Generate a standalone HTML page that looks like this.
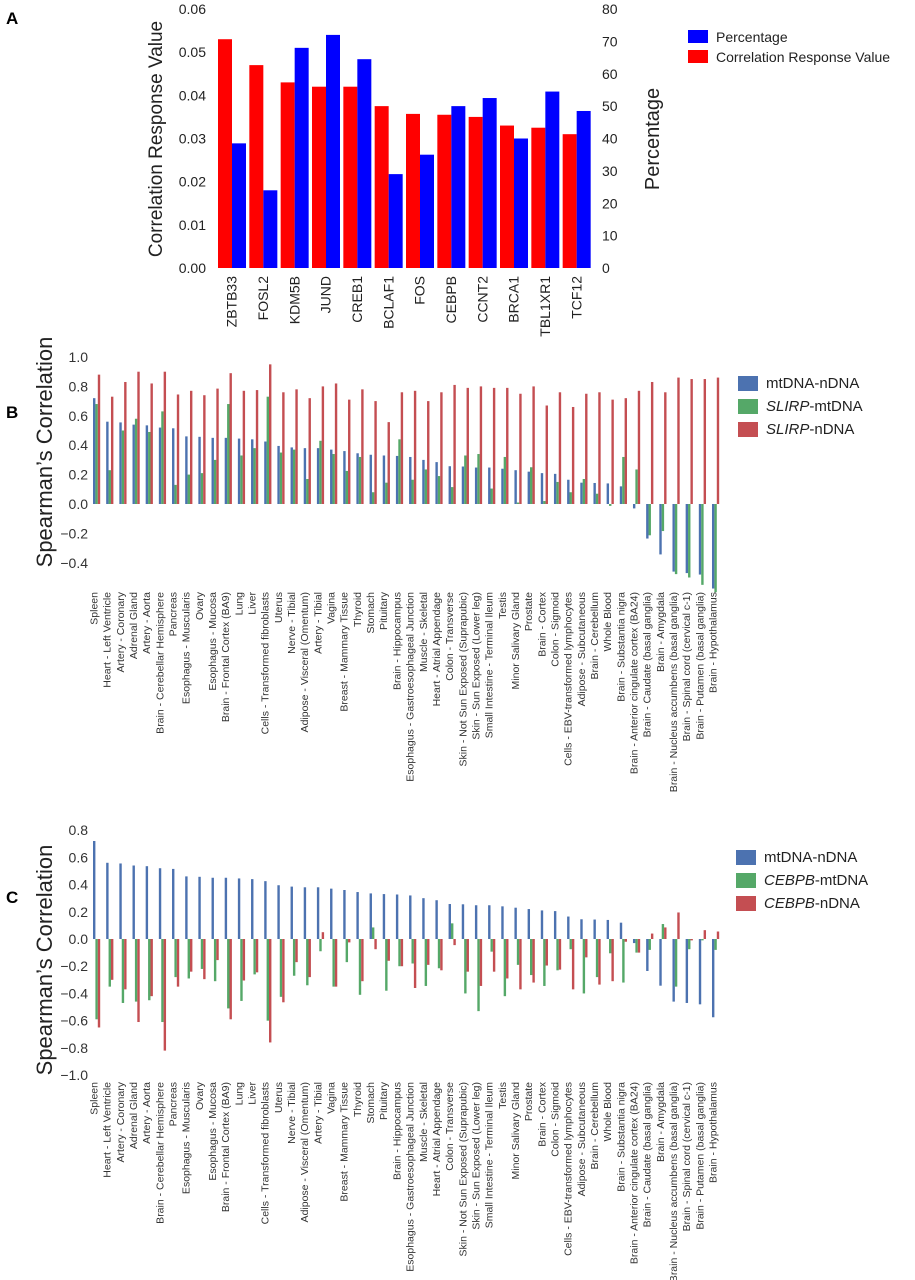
<!DOCTYPE html>
<html><head><meta charset="utf-8"><style>
html,body{margin:0;padding:0;background:#fff}
svg{display:block;font-family:"Liberation Sans",Arial,sans-serif}
</style></head><body>
<svg id="fig" width="915" height="1280" viewBox="0 0 915 1280">
<text x="6" y="24" font-size="17" font-weight="bold">A</text>
<text x="6" y="418" font-size="17" font-weight="bold">B</text>
<text x="6" y="903" font-size="17" font-weight="bold">C</text>
<g id="pa"></g>
<g id="pb"></g>
<g id="pc"></g>
</svg>
<script>
// ---- Panel A data ----
const genes = ["ZBTB33","FOSL2","KDM5B","JUND","CREB1","BCLAF1","FOS","CEBPB","CCNT2","BRCA1","TBL1XR1","TCF12"];
const corrValues = [0.053,0.047,0.043,0.042,0.042,0.0375,0.0357,0.0355,0.035,0.033,0.0325,0.031];
const pctValues = [38.5,24,68,72,64.5,29,35,50,52.5,40,54.5,48.5];
const leftTicks = ["0.00","0.01","0.02","0.03","0.04","0.05","0.06"];
const rightTicks = ["0","10","20","30","40","50","60","70","80"];

// ---- Panels B/C data ----
const tissues = ["Spleen","Heart - Left Ventricle","Artery - Coronary","Adrenal Gland","Artery - Aorta","Brain - Cerebellar Hemisphere","Pancreas","Esophagus - Muscularis","Ovary","Esophagus - Mucosa","Brain - Frontal Cortex (BA9)","Lung","Liver","Cells - Transformed fibroblasts","Uterus","Nerve - Tibial","Adipose - Visceral (Omentum)","Artery - Tibial","Vagina","Breast - Mammary Tissue","Thyroid","Stomach","Pituitary","Brain - Hippocampus","Esophagus - Gastroesophageal Junction","Muscle - Skeletal","Heart - Atrial Appendage","Colon - Transverse","Skin - Not Sun Exposed (Suprapubic)","Skin - Sun Exposed (Lower leg)","Small Intestine - Terminal Ileum","Testis","Minor Salivary Gland","Prostate","Brain - Cortex","Colon - Sigmoid","Cells - EBV-transformed lymphocytes","Adipose - Subcutaneous","Brain - Cerebellum","Whole Blood","Brain - Substantia nigra","Brain - Anterior cingulate cortex (BA24)","Brain - Caudate (basal ganglia)","Brain - Amygdala","Brain - Nucleus accumbens (basal ganglia)","Brain - Spinal cord (cervical c-1)","Brain - Putamen (basal ganglia)","Brain - Hypothalamus"];
const mtnDNA = [0.72,0.56,0.555,0.54,0.535,0.52,0.515,0.46,0.457,0.45,0.45,0.445,0.44,0.425,0.395,0.385,0.38,0.38,0.37,0.36,0.345,0.335,0.33,0.327,0.32,0.30,0.285,0.257,0.255,0.248,0.248,0.24,0.23,0.22,0.21,0.205,0.165,0.145,0.143,0.14,0.12,-0.03,-0.235,-0.343,-0.46,-0.47,-0.48,-0.575];
const slirpMt = [0.68,0.23,0.50,0.58,0.49,0.63,0.13,0.20,0.21,0.30,0.68,0.33,0.38,0.73,0.35,0.37,0.17,0.43,0.34,0.225,0.32,0.08,0.145,0.44,0.165,0.235,0.19,0.115,0.33,0.34,0.105,0.32,0.01,0.25,0.02,0.15,0.08,0.17,0.07,-0.013,0.32,0.235,-0.213,-0.184,-0.477,-0.50,-0.55,-0.60];
const slirpN = [0.88,0.73,0.83,0.90,0.82,0.90,0.745,0.77,0.74,0.785,0.89,0.77,0.775,0.95,0.76,0.78,0.72,0.80,0.82,0.71,0.78,0.70,0.557,0.76,0.77,0.70,0.76,0.81,0.79,0.80,0.79,0.79,0.75,0.80,0.67,0.76,0.66,0.75,0.76,0.71,0.72,0.77,0.83,0.76,0.86,0.85,0.85,0.86];
const cebpbMt = [-0.59,-0.35,-0.47,-0.46,-0.45,-0.61,-0.28,-0.29,-0.22,-0.31,-0.51,-0.455,-0.26,-0.60,-0.425,-0.27,-0.34,-0.09,-0.35,-0.17,-0.41,0.085,-0.38,-0.20,-0.18,-0.345,-0.215,0.115,-0.40,-0.53,-0.093,-0.42,-0.19,-0.265,-0.345,-0.23,-0.075,-0.40,-0.28,-0.105,-0.32,-0.10,-0.08,0.11,-0.35,-0.075,-0.01,-0.08];
const cebpbN = [-0.65,-0.30,-0.37,-0.61,-0.42,-0.82,-0.35,-0.24,-0.295,-0.155,-0.59,-0.305,-0.245,-0.76,-0.465,-0.17,-0.28,0.05,-0.35,-0.025,-0.31,-0.075,-0.16,-0.20,-0.36,-0.19,-0.23,-0.045,-0.24,-0.345,-0.24,-0.29,-0.37,-0.32,-0.195,-0.225,-0.37,-0.135,-0.335,-0.31,-0.02,-0.10,0.04,0.085,0.195,-0.01,0.065,0.055];
const bTicks = ["1.0","0.8","0.6","0.4","0.2","0.0","\u22120.2","\u22120.4"];
const bTickVals = [1.0,0.8,0.6,0.4,0.2,0.0,-0.2,-0.4];
const cTicks = ["0.8","0.6","0.4","0.2","0.0","\u22120.2","\u22120.4","\u22120.6","\u22120.8","\u22121.0"];
const cTickVals = [0.8,0.6,0.4,0.2,0.0,-0.2,-0.4,-0.6,-0.8,-1.0];

const NS="http://www.w3.org/2000/svg";
function mk(parent,tag,attrs,txt){const e=document.createElementNS(NS,tag);for(const k in attrs)e.setAttribute(k,attrs[k]);if(txt!==undefined)e.textContent=txt;parent.appendChild(e);return e;}

// ---------- Panel A ----------
(function(){
  const g=document.getElementById('pa');
  const x0=217,x1=593,yTop=9,yBot=268;
  const yL=v=>yBot-(v/0.06)*(yBot-yTop);
  const yR=v=>yBot-(v/80)*(yBot-yTop);
  const gw=(x1-x0)/genes.length;
  leftTicks.forEach((t,i)=>{
    const e=mk(g,'text',{x:206,y:yL(parseFloat(t))+5,'font-size':14,'text-anchor':'end',fill:'#222'},t);
     
  });
  rightTicks.forEach((t)=>{
    const e=mk(g,'text',{x:602,y:yR(parseFloat(t))+5,'font-size':14,fill:'#222'},t);
     
  });
  genes.forEach((n,i)=>{
    const gx=x0+i*gw;
    const r=mk(g,'rect',{x:gx+1,y:yL(corrValues[i]),width:14,height:yBot-yL(corrValues[i]),fill:'#ff0000'});
     
    const b=mk(g,'rect',{x:gx+15,y:yR(pctValues[i]),width:14,height:yBot-yR(pctValues[i]),fill:'#0000ff'});
     
    const cx=gx+gw/2+4;
    const t=mk(g,'text',{x:0,y:0,'font-size':14,'text-anchor':'end',fill:'#222',transform:`translate(${cx},276) rotate(-90)`},n);
     
  });
  let e=mk(g,'text',{x:0,y:0,'font-size':19,'text-anchor':'middle',fill:'#222',transform:'translate(162,139) rotate(-90)'},'Correlation Response Value');
   
  e=mk(g,'text',{x:0,y:0,'font-size':20,'text-anchor':'middle',fill:'#222',transform:'translate(659,139) rotate(-90)'},'Percentage');
   
  const lg=mk(g,'g',{});
   
  e=mk(lg,'rect',{x:688,y:30,width:20,height:13,fill:'#0000ff'});  
  e=mk(lg,'text',{x:716,y:42,'font-size':14,fill:'#222'},'Percentage');  
  e=mk(lg,'rect',{x:688,y:50,width:20,height:13,fill:'#ff0000'});  
  e=mk(lg,'text',{x:716,y:62,'font-size':14,fill:'#222'},'Correlation Response Value');  
})();

// ---------- Panels B & C ----------
function tissuePanel(id,zeroY,pxPerUnit,ticks,tickVals,s1,s2,s3,labelTop,legendY,legendX,gene,titleY,pre){
  const g=document.getElementById(id);
  const y=v=>zeroY-v*pxPerUnit;
  const step=13.17,bx0=93,bw=2.4;
  const cols=['#4c72b0','#55a868','#c44e52'];
  ticks.forEach((t,i)=>{
    const e=mk(g,'text',{x:88,y:y(tickVals[i])+5,'font-size':14,'text-anchor':'end',fill:'#333'},t);
     
  });
  [s1,s2,s3].forEach((arr,k)=>{
    arr.forEach((v,i)=>{
      const x=bx0+i*step+k*bw;
      const top=Math.min(y(v),zeroY), h=Math.abs(y(v)-zeroY);
      const r=mk(g,'rect',{x:x,y:top,width:bw,height:Math.max(h,0.5),fill:cols[k]});
      
      
    });
  });
  tissues.forEach((n,i)=>{
    const cx=bx0+i*step+4.5;
    const t=mk(g,'text',{x:0,y:0,'font-size':10.5,'text-anchor':'end',fill:'#333',transform:`translate(${cx},${labelTop}) rotate(-90)`},n);
    
    
  });
  let e=mk(g,'text',{x:0,y:0,'font-size':22,'text-anchor':'middle',fill:'#222',transform:`translate(52,${titleY}) rotate(-90)`},'Spearman\u2019s Correlation');
   
  const names=[['mtDNA-nDNA',null],[gene,'-mtDNA'],[gene,'-nDNA']];
  names.forEach((nm,k)=>{
    const yy=legendY+k*23;
    const r=mk(g,'rect',{x:legendX,y:yy-12,width:20,height:15,fill:cols[k]});
     
    const t=mk(g,'text',{x:legendX+28,y:yy,'font-size':15,fill:'#222'});
     
    if(nm[1]===null){t.textContent=nm[0];}
    else{mk(t,'tspan',{'font-style':'italic'},nm[0]);mk(t,'tspan',{},nm[1]);}
  });
}
tissuePanel('pb',504,147,bTicks,bTickVals,mtnDNA,slirpMt,slirpN,592,388,738,'SLIRP',452,'b');
tissuePanel('pc',939,136.1,cTicks,cTickVals,mtnDNA,cebpbMt,cebpbN,1082,862,736,'CEBPB',960,'c');
</script>
</body></html>
